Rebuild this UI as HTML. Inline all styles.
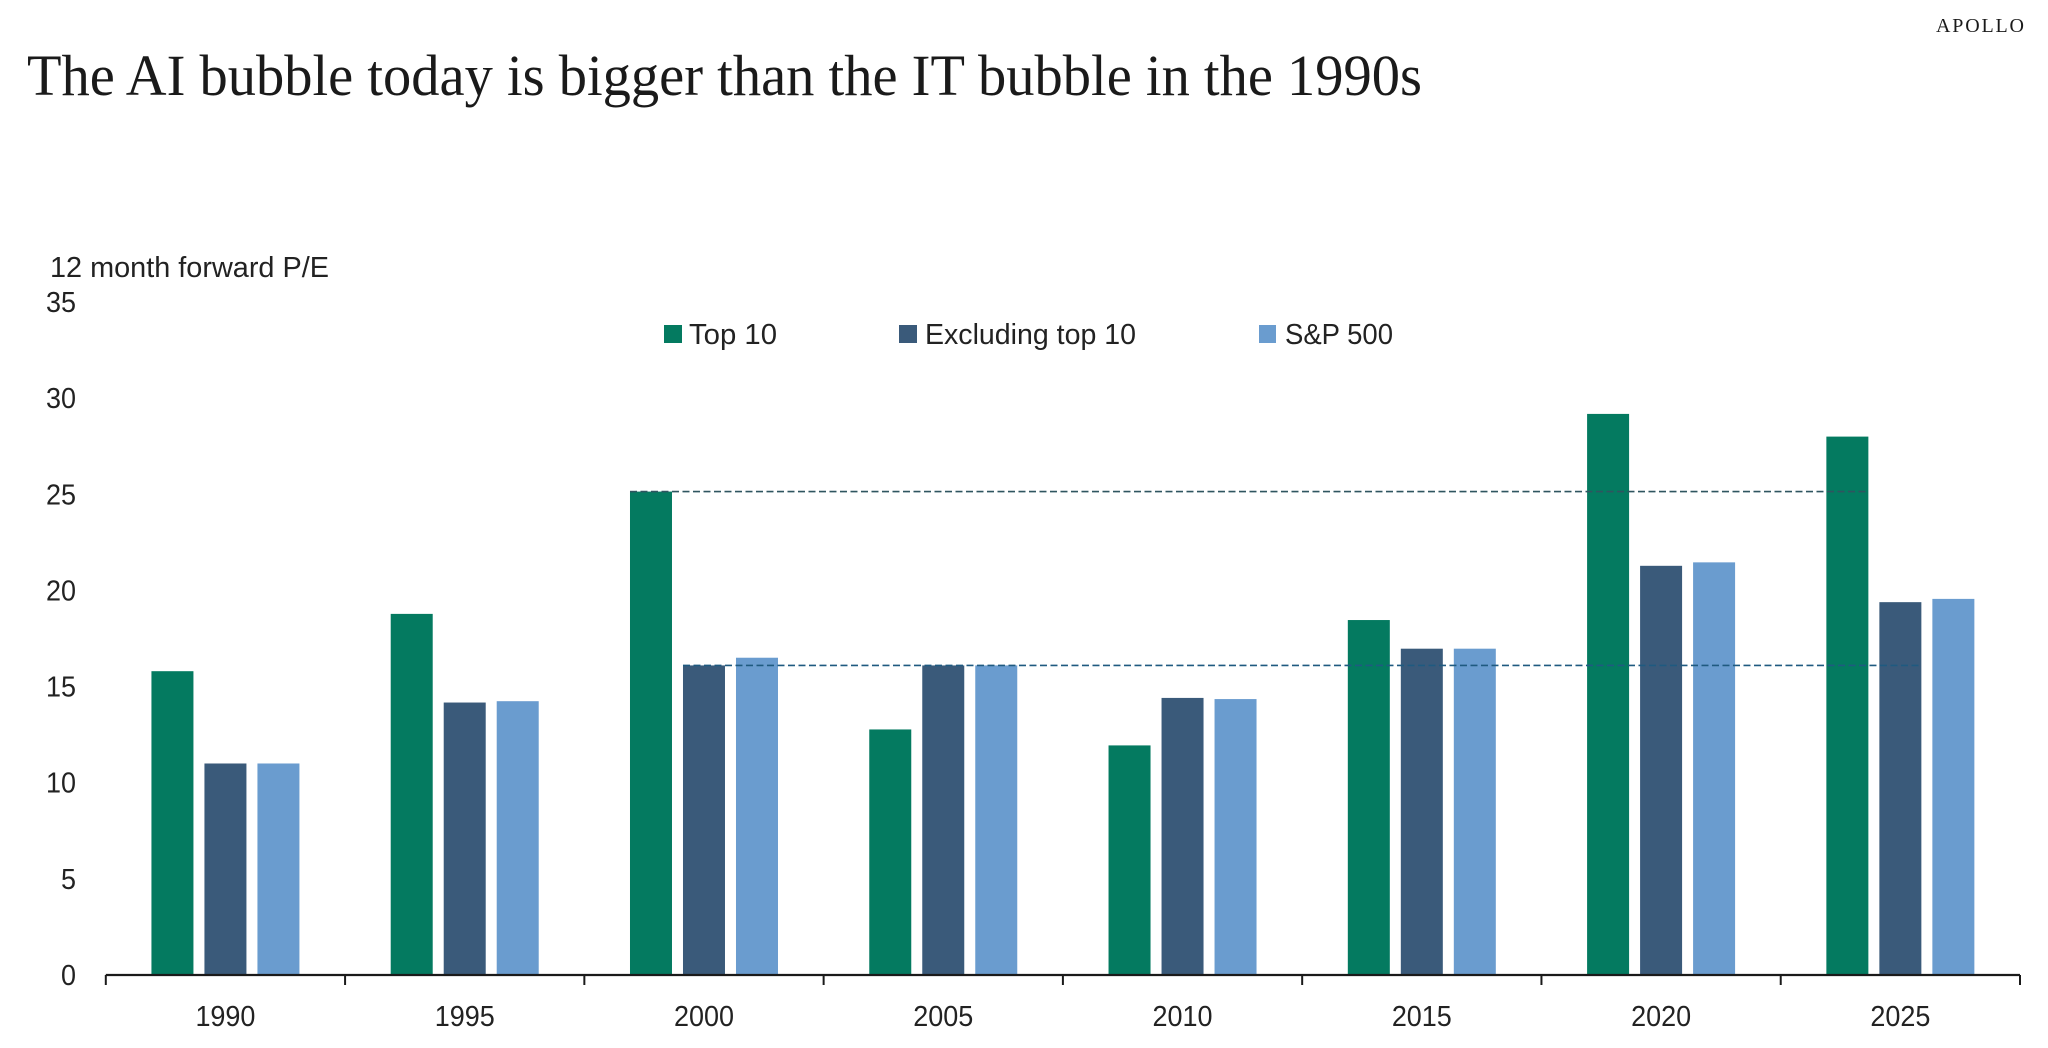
<!DOCTYPE html>
<html lang="en">
<head>
<meta charset="utf-8">
<title>The AI bubble today is bigger than the IT bubble in the 1990s</title>
<style>
  html, body { margin: 0; padding: 0; background: #ffffff; }
  svg { display: block; }
  .sans { font-family: "Liberation Sans", sans-serif; fill: #222222; }
  .serif { font-family: "Liberation Serif", serif; fill: #1a1a1a; }
</style>
</head>
<body>
<svg id="chart" xmlns="http://www.w3.org/2000/svg" width="2048" height="1048" viewBox="0 0 2048 1048">
  <rect x="0" y="0" width="2048" height="1048" fill="#ffffff"/>
  <text class="serif" x="1936" y="32" font-size="20" textLength="88" lengthAdjust="spacing">APOLLO</text>
  <text class="serif" x="27" y="95" font-size="58" textLength="1395" lengthAdjust="spacingAndGlyphs">The AI bubble today is bigger than the IT bubble in the 1990s</text>
  <text class="sans" x="50" y="277" font-size="29" textLength="279" lengthAdjust="spacingAndGlyphs">12 month forward P/E</text>
  <g>
    <rect x="664" y="325" width="18" height="18" fill="#047a60"/>
    <text class="sans" x="689" y="344" font-size="29" textLength="88" lengthAdjust="spacingAndGlyphs">Top 10</text>
    <rect x="899" y="325" width="18" height="18" fill="#3a5a7a"/>
    <text class="sans" x="925" y="344" font-size="29" textLength="211" lengthAdjust="spacingAndGlyphs">Excluding top 10</text>
    <rect x="1259" y="325" width="17" height="18" fill="#6a9ccf"/>
    <text class="sans" x="1285" y="344" font-size="29" textLength="108" lengthAdjust="spacingAndGlyphs">S&amp;P 500</text>
  </g>
  <g id="bars"></g>
  <g id="refs"></g>
  <g id="axes"></g>
</svg>
<script>
const categories = ['1990', '1995', '2000', '2005', '2010', '2015', '2020', '2025'];
const top10 = [15.8, 18.78, 25.14, 12.77, 11.94, 18.46, 29.18, 28.0];
const excludingTop10 = [11.0, 14.17, 16.1, 16.1, 14.41, 16.97, 21.28, 19.39];
const sp500 = [11.0, 14.24, 16.5, 16.1, 14.35, 16.97, 21.46, 19.56];
const yTickLabels = ['0', '5', '10', '15', '20', '25', '30', '35'];

const NS = 'http://www.w3.org/2000/svg';
const plotLeft = 105.8, plotRight = 2020, plotBottom = 975, plotTop = 302, yMax = 35;
const barWidth = 42, barStep = 53;
const seriesColors = ['#047a60', '#3a5a7a', '#6a9ccf'];
const seriesSlugs = ['top-10', 'excluding-top-10', 'sp-500'];
const allSeries = [top10, excludingTop10, sp500];

function yScale(v) { return plotBottom - (v / yMax) * (plotBottom - plotTop); }
function bandWidth() { return (plotRight - plotLeft) / categories.length; }
function xCenter(i) { return plotLeft + bandWidth() * (i + 0.5); }
function barX(i, s) { return xCenter(i) + (s - 1) * barStep - barWidth / 2; }

const barsG = document.getElementById('bars');
const refsG = document.getElementById('refs');
const axesG = document.getElementById('axes');

allSeries.forEach(function (values, s) {
  values.forEach(function (v, i) {
    const r = document.createElementNS(NS, 'rect');
    r.setAttribute('x', barX(i, s));
    r.setAttribute('y', yScale(v));
    r.setAttribute('width', barWidth);
    r.setAttribute('height', plotBottom - yScale(v));
    r.setAttribute('fill', seriesColors[s]);
    
    
    barsG.appendChild(r);
  });
});

function addRefLine(series, s, color, name) {
  const from = categories.indexOf('2000');
  const to = categories.indexOf('2025');
  const l = document.createElementNS(NS, 'line');
  l.setAttribute('x1', barX(from, s));
  l.setAttribute('x2', barX(to, s) + barWidth);
  l.setAttribute('y1', yScale(series[from]));
  l.setAttribute('y2', yScale(series[from]));
  l.setAttribute('stroke', color);
  l.setAttribute('stroke-width', '1.6');
  l.setAttribute('stroke-dasharray', '7 3.5');
  
  
  refsG.appendChild(l);
}
addRefLine(top10, 0, '#2f5560', 'reference-line-top-10-2000');
addRefLine(excludingTop10, 1, '#1f5a80', 'reference-line-excluding-top-10-2000');

const axisLine = document.createElementNS(NS, 'line');
axisLine.setAttribute('x1', plotLeft);
axisLine.setAttribute('x2', plotRight);
axisLine.setAttribute('y1', plotBottom);
axisLine.setAttribute('y2', plotBottom);
axisLine.setAttribute('stroke', '#1a1a1a');
axisLine.setAttribute('stroke-width', '2.2');


axesG.appendChild(axisLine);

for (let i = 0; i <= categories.length; i++) {
  const t = document.createElementNS(NS, 'line');
  const tx = plotLeft + bandWidth() * i;
  t.setAttribute('x1', tx);
  t.setAttribute('x2', tx);
  t.setAttribute('y1', plotBottom);
  t.setAttribute('y2', plotBottom + 10);
  t.setAttribute('stroke', '#1a1a1a');
  t.setAttribute('stroke-width', '2');
  
  
  axesG.appendChild(t);
}

categories.forEach(function (c, i) {
  const t = document.createElementNS(NS, 'text');
  t.setAttribute('class', 'sans');
  t.setAttribute('x', xCenter(i) - 30);
  t.setAttribute('y', 1026);
  t.setAttribute('font-size', '29');
  t.setAttribute('textLength', 60);
  t.setAttribute('lengthAdjust', 'spacingAndGlyphs');
  
  
  t.textContent = c;
  axesG.appendChild(t);
});

yTickLabels.forEach(function (label) {
  const t = document.createElementNS(NS, 'text');
  const w = label.length * 15;
  t.setAttribute('class', 'sans');
  t.setAttribute('x', 76 - w);
  t.setAttribute('y', yScale(Number(label)) + 10);
  t.setAttribute('font-size', '29');
  t.setAttribute('textLength', w);
  t.setAttribute('lengthAdjust', 'spacingAndGlyphs');
  
  
  t.textContent = label;
  axesG.appendChild(t);
});
</script>
</body>
</html>
